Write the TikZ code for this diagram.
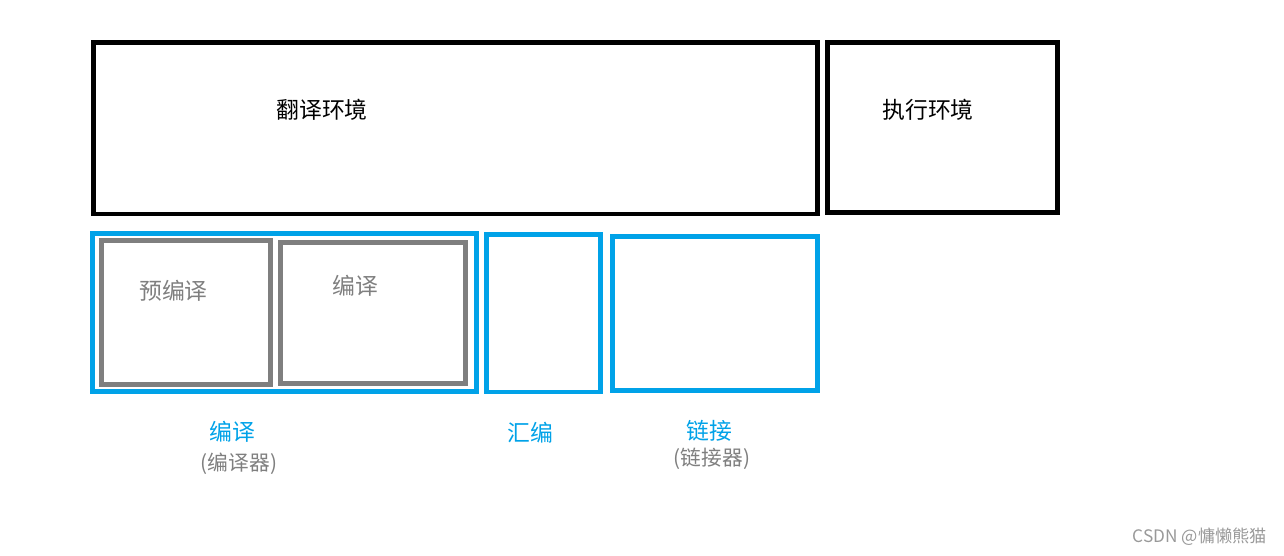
\documentclass[tikz,border=0pt]{standalone}
\usepackage{fontspec}
\setmainfont{Noto Sans CJK SC}
\definecolor{stageblue}{HTML}{00A2E8}
\definecolor{phasegray}{HTML}{7F7F7F}
\tikzset{
  envbox/.style={draw=black, line width=2.8pt},
  stagebox/.style={draw=stageblue, line width=2.5pt},
  phasebox/.style={draw=phasegray, line width=2.8pt},
  envtext/.style={font=\fontsize{13}{15}\selectfont, text=black},
  phasetext/.style={font=\fontsize{13}{15}\selectfont, text=phasegray},
  stagetext/.style={font=\fontsize{13}{15}\selectfont, text=stageblue},
  tooltext/.style={font=\fontsize{11.8}{14}\selectfont, text=phasegray}
}
\begin{document}
\begin{tikzpicture}[x=0.02cm, y=-0.02cm]
\useasboundingbox (0,0) rectangle (1284,555);

% environments
\draw[envbox] (93.5,42.5) rectangle (817.5,214);
\draw[envbox] (827.5,42.5) rectangle (1057.5,212.5);
\node[envtext] (transl) at (322,110) {翻译环境};
\node[envtext] (exec) at (928,110) {执行环境};

% stages
\draw[stagebox] (92.5,233.5) rectangle (476.5,391.5);
\draw[phasebox] (101.5,240.5) rectangle (270.5,384.5);
\draw[phasebox] (280.5,242.5) rectangle (465.5,383.5);
\draw[stagebox] (486.5,234.5) rectangle (600.5,392);
\draw[stagebox] (612.5,236.5) rectangle (817.5,390.5);

\node[phasetext] (precomp) at (173.5,291) {预编译};
\node[phasetext] (comp) at (355,286) {编译};

\node[stagetext] (compile) at (232,432) {编译};
\node[tooltext] (compiler) at (239,464) {(编译器)};
\node[stagetext] (assemble) at (530.5,433) {汇编};
\node[stagetext] (link) at (709.5,431) {链接};
\node[tooltext] (linker) at (712,459) {(链接器)};

\node[font=\fontsize{9.8}{11}\selectfont, text=black!40] (mark) at (1200,537) {CSDN @慵懒熊猫};
\end{tikzpicture}
\end{document}
